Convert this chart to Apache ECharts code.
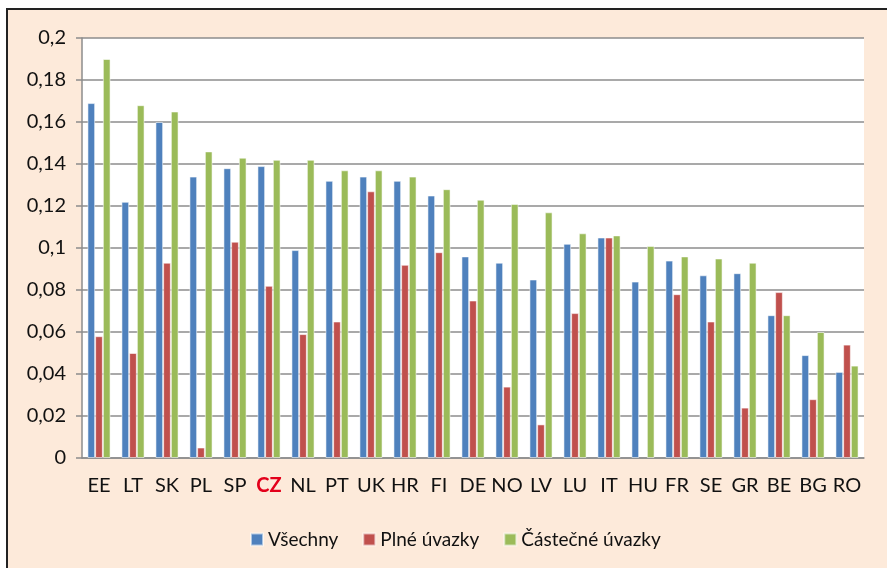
<!DOCTYPE html>
<html>
<head>
<meta charset="utf-8">
<title>Mzdové rozdíly</title>
<script src="https://cdn.jsdelivr.net/npm/echarts@6/dist/echarts.min.js"></script>
<style>
    html, body { margin: 0; padding: 0; background: #fff; }
    #main { width: 887px; height: 568px; }
</style>
</head>
<body>
<div id="main"></div>
<script>
// data
var countries = ['EE', 'LT', 'SK', 'PL', 'SP', 'CZ', 'NL', 'PT', 'UK', 'HR', 'FI', 'DE',
    'NO', 'LV', 'LU', 'IT', 'HU', 'FR', 'SE', 'GR', 'BE', 'BG', 'RO'];
var vsechny = [0.169, 0.122, 0.160, 0.134, 0.138, 0.139, 0.099, 0.132, 0.134, 0.132, 0.125, 0.096,
    0.093, 0.085, 0.102, 0.105, 0.084, 0.094, 0.087, 0.088, 0.068, 0.049, 0.041];
var plne = [0.058, 0.050, 0.093, 0.005, 0.103, 0.082, 0.059, 0.065, 0.127, 0.092, 0.098, 0.075,
    0.034, 0.016, 0.069, 0.105, null, 0.078, 0.065, 0.024, 0.079, 0.028, 0.054];
var castecne = [0.190, 0.168, 0.165, 0.146, 0.143, 0.142, 0.142, 0.137, 0.137, 0.134, 0.128, 0.123,
    0.121, 0.117, 0.107, 0.106, 0.101, 0.096, 0.095, 0.093, 0.068, 0.060, 0.044];
var seriesNames = ['Všechny', 'Plné úvazky', 'Částečné úvazky'];
var colors = ['#4F81BD', '#C0504D', '#9BBB59'];

var font = 'Lato, "Open Sans", sans-serif';
var myChart = echarts.init(document.getElementById('main'));

function barSeries(name, data) {
    return {
        name: name,
        type: 'bar',
        data: data,
        barGap: '0%',
        barCategoryGap: '32%',
        itemStyle: {
            borderColor: 'rgba(255,255,255,0.55)',
            borderWidth: 1
        },
        animation: false
    };
}

var option = {
    backgroundColor: '#fff',
    color: colors,
    textStyle: { fontFamily: font },
    graphic: [{
        type: 'rect',
        z: -10,
        shape: { x: 7, y: 9, width: 900, height: 600 },
        style: { fill: '#FDEADA', stroke: '#222', lineWidth: 2 }
    }],
    grid: {
        left: 82,
        right: 23,
        top: 38,
        bottom: 110,
        show: true,
        backgroundColor: '#fff',
        borderWidth: 0
    },
    legend: {
        left: 245,
        top: 525,
        itemWidth: 12,
        itemHeight: 12,
        itemGap: 24,
        icon: 'rect',
        textStyle: { fontFamily: font, fontSize: 19, color: '#111' },
        data: seriesNames
    },
    xAxis: {
        type: 'category',
        data: countries,
        axisLine: { lineStyle: { color: '#8c8c8c', width: 1.5 } },
        axisTick: { length: 5, lineStyle: { color: '#8c8c8c', width: 1.5 } },
        axisLabel: {
            interval: 0,
            margin: 18,
            fontFamily: font,
            fontSize: 20,
            color: '#111',
            formatter: function (v) {
                return v === 'CZ' ? '{cz|' + v + '}' : v;
            },
            rich: {
                cz: { color: '#E3001B', fontWeight: 'bold', fontSize: 20, fontFamily: font }
            }
        }
    },
    yAxis: {
        type: 'value',
        min: 0,
        max: 0.2,
        interval: 0.02,
        axisLine: { show: true, lineStyle: { color: '#8c8c8c', width: 1.5 } },
        axisTick: { show: true, length: 6, lineStyle: { color: '#8c8c8c', width: 1.5 } },
        splitLine: { lineStyle: { color: '#8c8c8c', width: 1.5 } },
        axisLabel: {
            margin: 16,
            fontFamily: font,
            fontSize: 20,
            color: '#111',
            formatter: function (v) {
                return String(Math.round(v * 100) / 100).replace('.', ',');
            }
        }
    },
    series: [
        barSeries(seriesNames[0], vsechny),
        barSeries(seriesNames[1], plne),
        barSeries(seriesNames[2], castecne)
    ]
};
myChart.setOption(option);
</script>
</body>
</html>
